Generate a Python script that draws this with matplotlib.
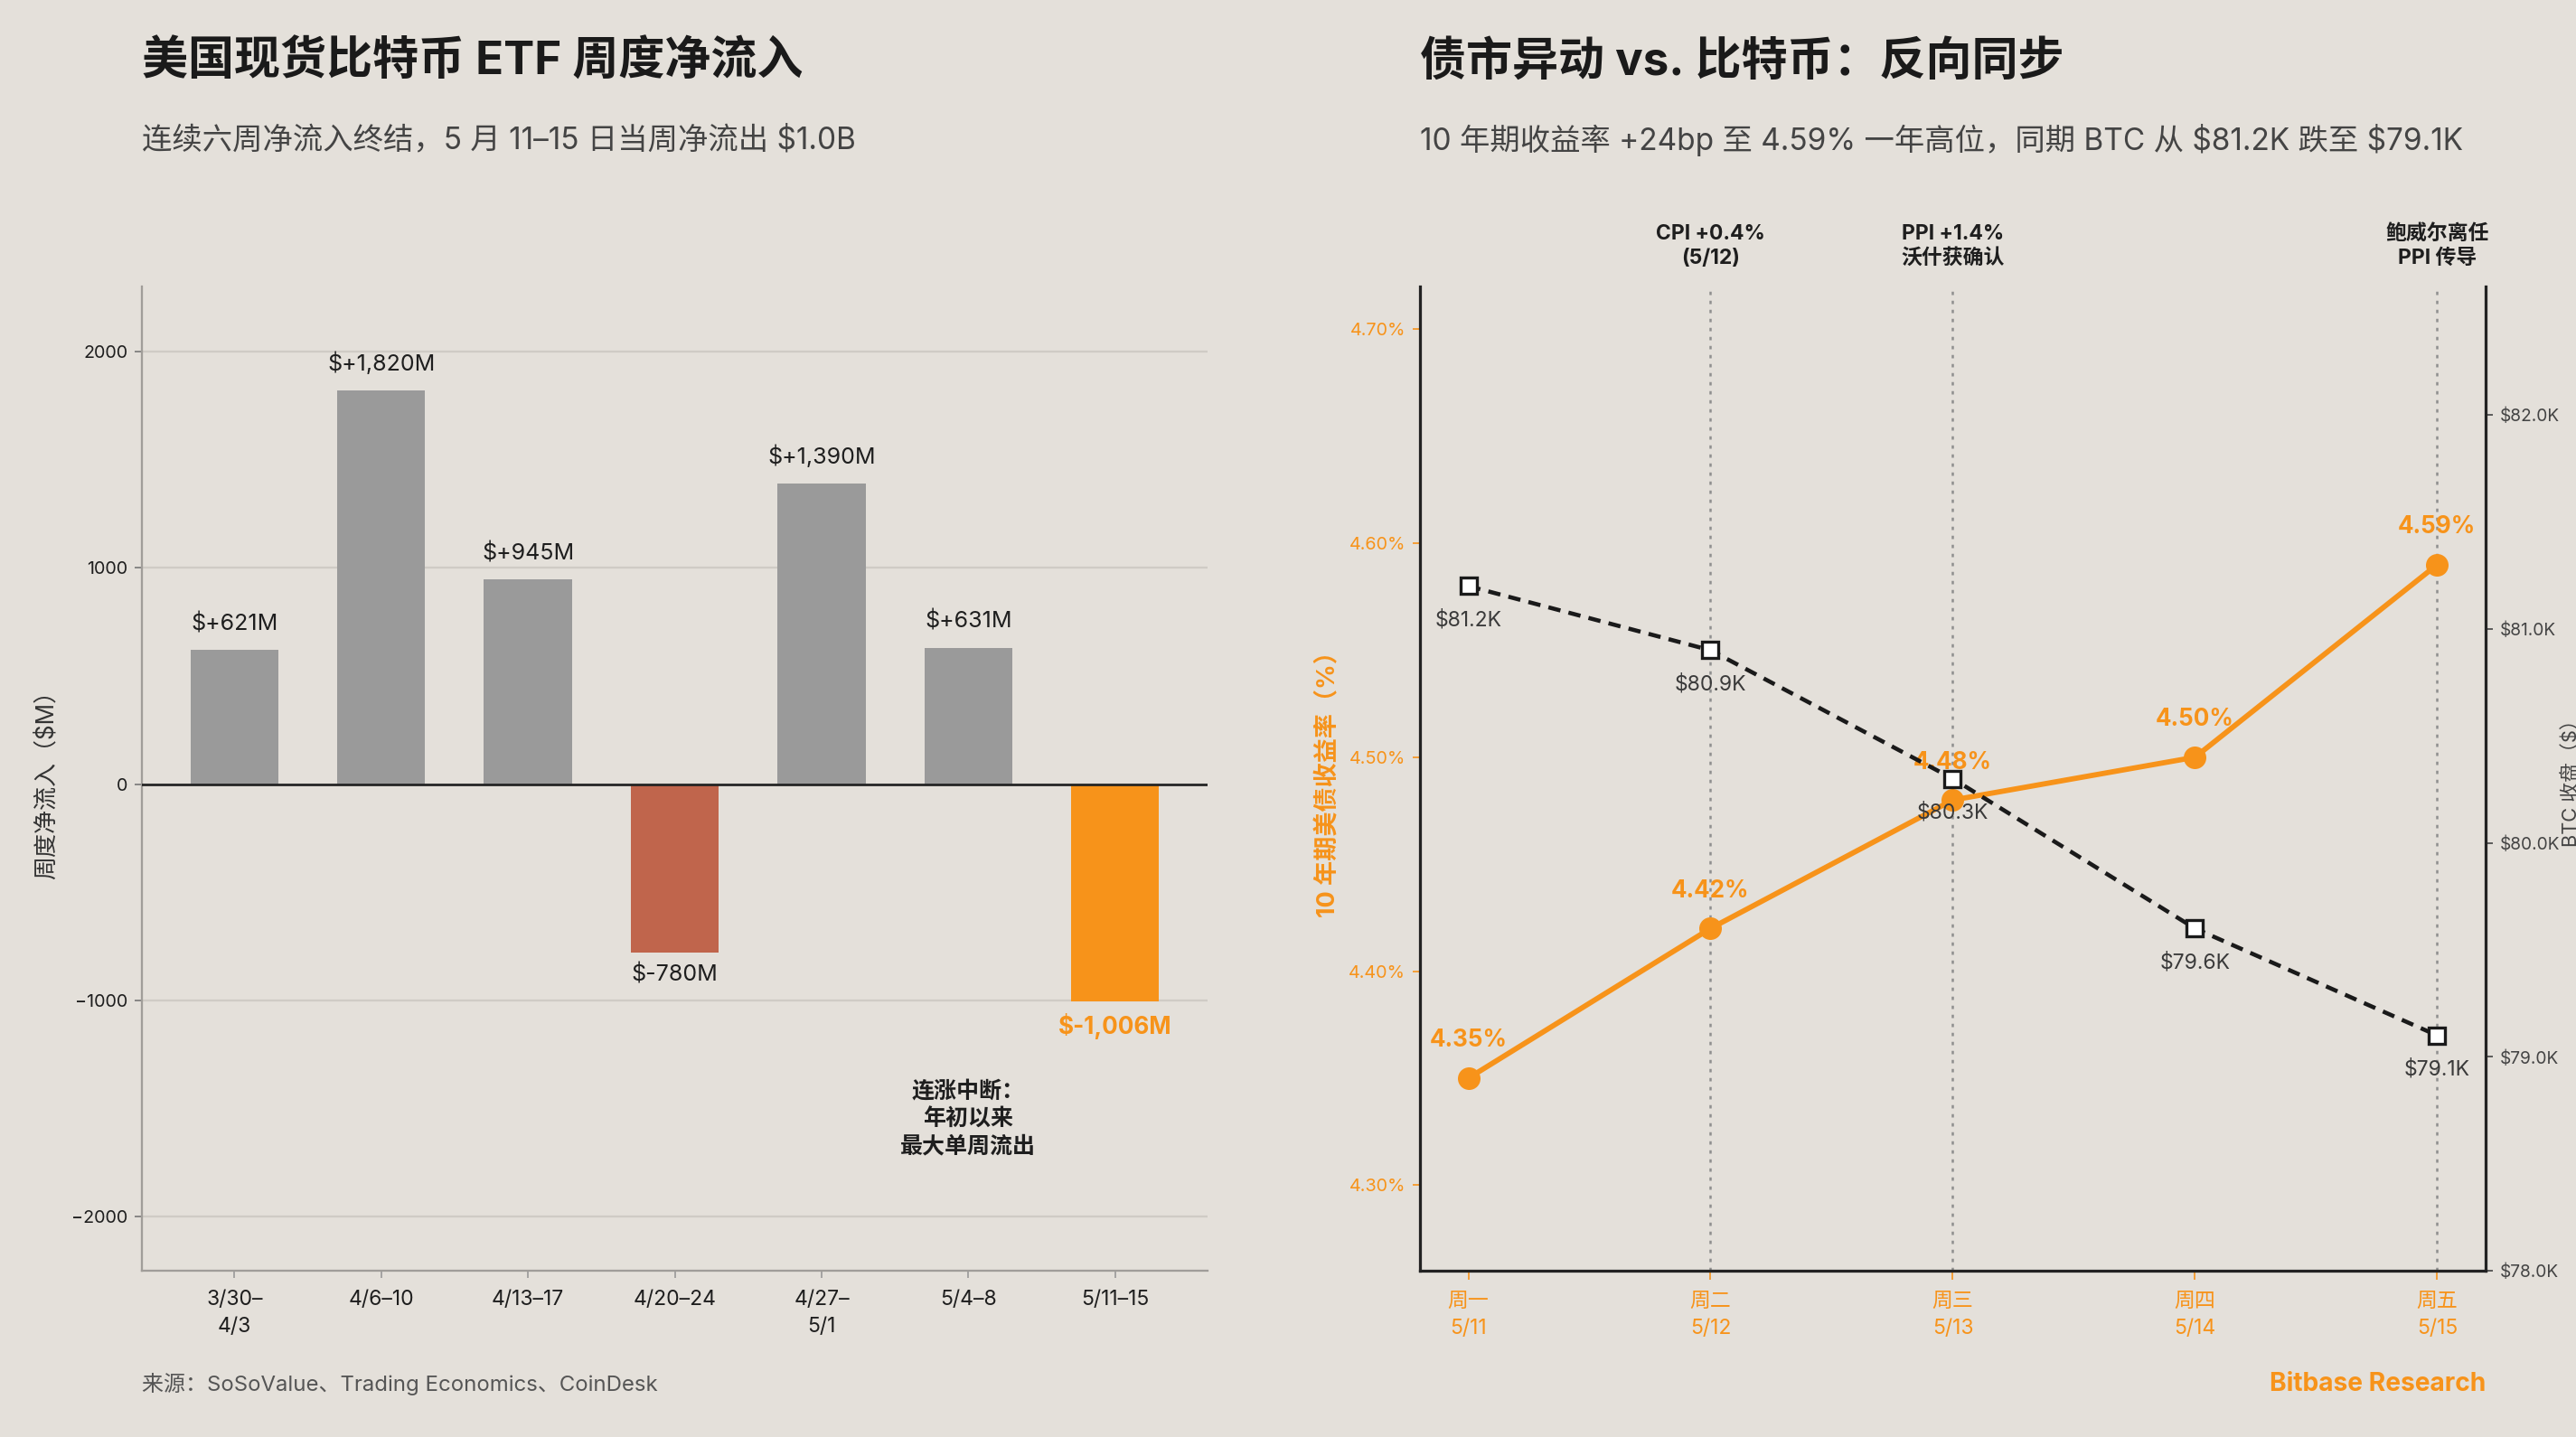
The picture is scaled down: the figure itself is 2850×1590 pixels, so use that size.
import matplotlib
matplotlib.use('Agg')
import matplotlib.pyplot as plt
import matplotlib.transforms as mtransforms
from matplotlib.ticker import FuncFormatter

plt.rcParams['font.family'] = ['Inter', 'Noto Sans CJK SC', 'DejaVu Sans']

BG = '#e4e0da'
ORANGE = '#f7931a'
GRAY_BAR = '#9a9a9a'
RED_BAR = '#c0654c'
DARK = '#1e1e1e'

# 左图：ETF 周度净流入（$M）
weeks = ['3/30–\n4/3', '4/6–10', '4/13–17', '4/20–24', '4/27–\n5/1', '5/4–8', '5/11–15']
flows = [621, 1820, 945, -780, 1390, 631, -1006]

# 右图：10 年期美债收益率 vs BTC 收盘
days = ['周一\n5/11', '周二\n5/12', '周三\n5/13', '周四\n5/14', '周五\n5/15']
yields = [4.35, 4.42, 4.48, 4.50, 4.59]
btc = [81200, 80900, 80300, 79600, 79100]
event_idx = [1, 2, 4]
event_text = ['CPI +0.4%\n(5/12)', 'PPI +1.4%\n沃什获确认', '鲍威尔离任\nPPI 传导']

fig = plt.figure(figsize=(19, 10.6), dpi=150, facecolor=BG)

# ---------------- 左图 ----------------
ax = fig.add_axes([0.0551, 0.1157, 0.4137, 0.6849], facecolor=BG)
colors = []
for i, v in enumerate(flows):
    if i == len(flows) - 1:
        colors.append(ORANGE)
    elif v < 0:
        colors.append(RED_BAR)
    else:
        colors.append(GRAY_BAR)
x = range(len(flows))
ax.bar(x, flows, width=0.6, color=colors, zorder=2)
ax.axhline(0, color='#222222', lw=1.3, zorder=3)
ax.set_ylim(-2250, 2300)
ax.set_yticks([-2000, -1000, 0, 1000, 2000])
ax.grid(axis='y', color='#cfcbc5', lw=1.1, zorder=0)
ax.set_axisbelow(True)
ax.set_xticks(list(x))
ax.set_xticklabels(weeks, fontsize=11, color=DARK, linespacing=1.45)
ax.tick_params(axis='y', labelsize=9.5, colors=DARK, length=4, color='#777777')
ax.tick_params(axis='x', length=4, color='#999999', pad=6)
for s in ['top', 'right']:
    ax.spines[s].set_visible(False)
for s in ['left', 'bottom']:
    ax.spines[s].set_color('#a09d99')
    ax.spines[s].set_linewidth(1.1)

for i, v in enumerate(flows):
    label = f'${v:+,}M'
    last = i == len(flows) - 1
    if v >= 0:
        ax.annotate(label, (i, v), xytext=(0, 8), textcoords='offset points',
                    ha='center', va='bottom', fontsize=12, color=DARK)
    else:
        ax.annotate(label, (i, v), xytext=(0, -6), textcoords='offset points',
                    ha='center', va='top', fontsize=12.5 if last else 12,
                    color=ORANGE if last else DARK,
                    fontweight='bold' if last else 'normal')

ax.text(5, -1550, '连涨中断：\n年初以来\n最大单周流出', ha='center', va='center',
        fontsize=12, fontweight='bold', color=DARK, linespacing=1.3)
ax.text(-0.089, 0.5, '周度净流入（$M）', transform=ax.transAxes, rotation=90,
        ha='center', va='center', fontsize=12.5, color='#333333')

fig.text(0.0551, 0.957, '美国现货比特币 ETF 周度净流入', fontsize=24.5, fontweight='bold',
         color='#1a1a1a', ha='left', va='center')
fig.text(0.0551, 0.9025, '连续六周净流入终结，5 月 11–15 日当周净流出 $1.0B', fontsize=16,
         color='#444444', ha='left', va='center')
fig.text(0.0551, 0.0365, '来源：SoSoValue、Trading Economics、CoinDesk', fontsize=11.5,
         color='#555555', ha='left', va='center')

# ---------------- 右图 ----------------
ax1 = fig.add_axes([0.5512, 0.1157, 0.4137, 0.6849], facecolor=BG)
d = range(len(days))
ax1.plot(d, yields, color=ORANGE, lw=2.8, marker='o', markersize=11, zorder=3)
ax1.set_xlim(-0.2, 4.2)
ax1.set_ylim(4.26, 4.72)
ax1.set_yticks([4.30, 4.40, 4.50, 4.60, 4.70])
ax1.yaxis.set_major_formatter(FuncFormatter(lambda v, p: f'{v:.2f}%'))
ax1.set_xticks(list(d))
ax1.set_xticklabels(days, fontsize=11, color=ORANGE, linespacing=1.45)
ax1.tick_params(axis='y', labelsize=9.5, colors=ORANGE, length=4)
ax1.tick_params(axis='x', length=5, color=ORANGE, pad=6)
for k in event_idx:
    ax1.axvline(k, color='#8f8f8f', lw=1.2, ls=(0, (1.5, 2.5)), zorder=1)
for i, v in enumerate(yields):
    ax1.annotate(f'{v:.2f}%', (i, v), xytext=(0, 20), textcoords='offset points',
                 ha='center', va='center', fontsize=12.5, fontweight='bold', color=ORANGE)
ax1.spines['top'].set_visible(False)
for s in ['left', 'bottom', 'right']:
    ax1.spines[s].set_color('#222222')
    ax1.spines[s].set_linewidth(1.5)
ax1.text(-0.0857, 0.5, '10 年期美债收益率（%）', transform=ax1.transAxes, rotation=90,
         ha='center', va='center', fontsize=13, fontweight='bold', color=ORANGE)

trans = mtransforms.blended_transform_factory(ax1.transData, ax1.transAxes)
for k, t in zip(event_idx, event_text):
    ax1.text(k, 1.041, t, transform=trans, ha='center', va='center', fontsize=11,
             fontweight='bold', color=DARK, linespacing=1.25)

ax2 = ax1.twinx()
ax2.plot(d, btc, color='#1a1a1a', lw=2.2, ls=(0, (3, 2)), marker='s', markersize=9,
         markerfacecolor='white', markeredgecolor='#1a1a1a', markeredgewidth=1.6, zorder=3)
ax2.set_ylim(78000, 82600)
ax2.set_yticks([78000, 79000, 80000, 81000, 82000])
ax2.yaxis.set_major_formatter(FuncFormatter(lambda v, p: f'${v/1000:.1f}K'))
ax2.tick_params(axis='y', labelsize=9.2, colors='#444444', length=4)
ax2.spines['top'].set_visible(False)
for s in ['left', 'bottom', 'right']:
    ax2.spines[s].set_color('#222222')
    ax2.spines[s].set_linewidth(1.5)
for i, v in enumerate(btc):
    ax2.annotate(f'${v/1000:.1f}K', (i, v), xytext=(0, -18), textcoords='offset points',
                 ha='center', va='center', fontsize=11, color='#3a3a3a')
ax2.text(1.0805, 0.5, 'BTC 收盘（$）', transform=ax2.transAxes, rotation=90,
         ha='center', va='center', fontsize=10.5, color='#444444', clip_on=False)

fig.text(0.5512, 0.957, '债市异动 vs. 比特币：反向同步', fontsize=24.5, fontweight='bold',
         color='#1a1a1a', ha='left', va='center')
fig.text(0.5512, 0.9025, r'10 年期收益率 +24bp 至 4.59% 一年高位，同期 BTC 从 \$81.2K 跌至 \$79.1K',
         fontsize=16, color='#444444', ha='left', va='center')
fig.text(0.9649, 0.0365, 'Bitbase Research', fontsize=13.5, fontweight='bold',
         color=ORANGE, ha='right', va='center')

fig.savefig('out.png', dpi=150, facecolor=BG)
